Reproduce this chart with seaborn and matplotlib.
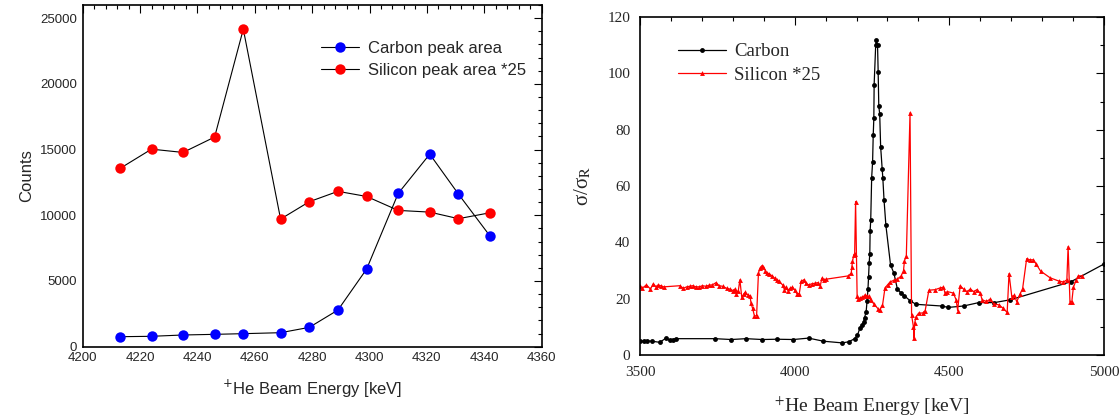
import numpy as np
import pandas as pd
import matplotlib
matplotlib.use("Agg")
import matplotlib.pyplot as plt
from matplotlib.ticker import MultipleLocator
import seaborn as sns

# ---------------- data: left panel ----------------
energy_left = [4213, 4224, 4235, 4246, 4256, 4269, 4279, 4289, 4299, 4310, 4321, 4331, 4342]
carbon_area = [760, 790, 890, 940, 990, 1065, 1470, 2790, 5910, 11660, 14650, 11610, 8420]
silicon_area25 = [13560, 15030, 14780, 15950, 24160, 9710, 11030, 11820, 11430, 10370, 10240, 9740, 10190]

# ---------------- data: right panel ----------------
carbon_E = [3500, 3512, 3524, 3539, 3564, 3584, 3596, 3607, 3615, 3742, 3795, 3843, 3895, 3942,
            3996, 4045, 4093, 4154, 4175, 4194, 4203, 4211, 4217, 4223, 4226, 4231, 4234, 4237,
            4239, 4241, 4243, 4244, 4246, 4249, 4252, 4254, 4256, 4257, 4262, 4264, 4268, 4270,
            4272, 4275, 4278, 4283, 4285, 4289, 4295, 4310, 4321, 4332, 4344, 4355, 4373, 4392,
            4475, 4497, 4546, 4595, 4645, 4697, 4893, 5000]
carbon_R = [4.9, 4.9, 5.0, 4.9, 4.5, 6.0, 5.3, 5.5, 5.8, 5.8, 5.5, 5.8, 5.5, 5.6,
            5.5, 6.0, 4.9, 4.3, 4.7, 5.8, 7.0, 9.6, 10.5, 11.8, 13.3, 15.2, 19.0, 23.3,
            27.8, 32.8, 36.0, 44.0, 48.0, 63.0, 68.5, 78.0, 84.0, 96.0, 110.0, 112.0, 110.0, 100.5,
            88.5, 85.5, 74.0, 66.0, 63.0, 55.0, 46.0, 32.0, 29.0, 23.5, 22.0, 21.0, 19.3, 18.0,
            17.4, 16.9, 17.4, 18.6, 18.6, 19.6, 26.0, 32.3]

silicon_E = [3500, 3507, 3521, 3534, 3543, 3552, 3559, 3567, 3577, 3629, 3640, 3651, 3661, 3670,
             3681, 3691, 3702, 3713, 3724, 3734, 3746, 3756, 3767, 3780, 3791, 3800, 3807, 3810,
             3818, 3823, 3829, 3836, 3840, 3848, 3856, 3859, 3864, 3870, 3877, 3883, 3888, 3894,
             3899, 3905, 3910, 3918, 3927, 3935, 3943, 3950, 3961, 3967, 3972, 3978, 3986, 3993,
             4000, 4007, 4015, 4021, 4029, 4036, 4045, 4056, 4067, 4075, 4083, 4088, 4096, 4101,
             4174, 4183, 4185, 4187, 4191, 4194, 4197, 4202, 4206, 4211, 4217, 4223, 4228, 4234,
             4240, 4246, 4257, 4269, 4275, 4284, 4292, 4301, 4309, 4321, 4332, 4344, 4352, 4355,
             4361, 4373, 4378, 4384, 4386, 4388, 4392, 4401, 4414, 4422, 4434, 4454, 4470, 4481,
             4486, 4494, 4513, 4522, 4527, 4535, 4546, 4557, 4568, 4579, 4589, 4600, 4606, 4620,
             4633, 4643, 4660, 4674, 4687, 4693, 4702, 4710, 4718, 4728, 4737, 4750, 4760, 4772,
             4780, 4795, 4826, 4853, 4869, 4880, 4884, 4890, 4896, 4901, 4910, 4917, 4928]
silicon_R = [24.6, 23.7, 24.9, 23.4, 25.3, 24.2, 24.9, 24.6, 24.2, 24.6, 23.7, 24.2, 24.4, 24.6,
             24.2, 24.2, 24.6, 24.4, 24.8, 24.9, 25.7, 24.6, 24.4, 23.7, 23.4, 22.9, 23.4, 21.8,
             22.9, 26.7, 20.5, 21.8, 22.2, 21.4, 20.8, 18.4, 16.6, 13.9, 13.9, 29.1, 30.8, 31.7,
             31.4, 30.0, 29.1, 28.8, 28.1, 27.3, 26.7, 26.1, 24.9, 23.2, 24.1, 22.9, 23.7, 24.1,
             23.2, 21.8, 21.8, 26.1, 26.7, 25.5, 24.9, 25.3, 25.5, 25.7, 24.6, 27.3, 26.7, 26.9,
             28.1, 29.1, 31.4, 33.2, 35.6, 36.0, 54.5, 21.0, 19.8, 20.2, 20.5, 20.8, 21.2, 21.0,
             20.8, 19.5, 18.0, 16.5, 16.0, 17.6, 23.8, 25.0, 26.0, 26.5, 27.0, 28.0, 30.0, 33.5,
             35.0, 86.0, 14.2, 10.0, 5.9, 11.3, 13.5, 14.9, 14.9, 15.8, 23.0, 23.2, 23.8, 24.1,
             22.0, 22.5, 22.0, 19.6, 15.8, 24.6, 23.4, 22.5, 23.4, 22.5, 23.2, 22.0, 19.6, 19.0,
             19.9, 18.2, 17.8, 16.6, 15.1, 28.9, 20.7, 21.2, 18.9, 21.5, 23.6, 34.2, 33.8, 33.8,
             32.4, 29.8, 27.4, 26.3, 25.9, 26.7, 38.5, 18.9, 18.9, 24.0, 26.6, 28.1, 28.1]

left_labels = ["Carbon peak area", "Silicon peak area *25"]
right_labels = ["Carbon", "Silicon *25"]

# ---------------- figure ----------------
sns.set_style("white")
plt.rcParams["font.family"] = ["Liberation Sans", "DejaVu Sans"]

fig = plt.figure(figsize=(11.2, 4.18), dpi=100)
axL = fig.add_axes([0.0738, 0.1706, 0.4098, 0.8175])
axR = fig.add_axes([0.5714, 0.1507, 0.4143, 0.8086])

dfL = pd.DataFrame({"E": energy_left, "C": carbon_area, "S": silicon_area25})
sns.lineplot(data=dfL, x="E", y="C", ax=axL, color="black", lw=0.8, marker="o", ms=7.5,
             mfc="#0000ff", mec="#0000ff", mew=0, estimator=None, sort=False, label=left_labels[0])
sns.lineplot(data=dfL, x="E", y="S", ax=axL, color="black", lw=0.8, marker="o", ms=7.5,
             mfc="#ff0000", mec="#ff0000", mew=0, estimator=None, sort=False, label=left_labels[1])

axL.set_xlim(4200, 4360)
axL.set_ylim(0, 26000)
axL.xaxis.set_major_locator(MultipleLocator(20))
axL.xaxis.set_minor_locator(MultipleLocator(4))
axL.yaxis.set_major_locator(MultipleLocator(5000))
axL.yaxis.set_minor_locator(MultipleLocator(1000))
axL.set_xlabel("$^{+}$He Beam Energy [keV]", fontsize=12, labelpad=10)
axL.set_ylabel("Counts", fontsize=12, labelpad=4)
axL.tick_params(which="both", direction="in", top=True, right=True, labelsize=9.5,
                color="black", width=0.8)
axL.tick_params(which="major", length=6, pad=4)
axL.tick_params(which="minor", length=3)
for s in axL.spines.values():
    s.set_color("black"); s.set_linewidth(1.2)
legL = axL.legend(loc="upper left", bbox_to_anchor=(0.505, 0.915), frameon=False, fontsize=12,
                  handlelength=2.3, handletextpad=0.5, labelspacing=0.45, borderaxespad=0)

dfC = pd.DataFrame({"E": carbon_E, "R": carbon_R})
dfS = pd.DataFrame({"E": silicon_E, "R": silicon_R})
sns.lineplot(data=dfC, x="E", y="R", ax=axR, color="black", lw=0.9, marker="o", ms=3.5,
             mfc="black", mec="black", mew=0, estimator=None, sort=False, label=right_labels[0])
sns.lineplot(data=dfS, x="E", y="R", ax=axR, color="#ff0000", lw=0.9, marker="^", ms=3.5,
             mfc="#ff0000", mec="#ff0000", mew=0, estimator=None, sort=False, label=right_labels[1])

serif = ["Liberation Serif", "DejaVu Serif"]
axR.set_xlim(3500, 5000)
axR.set_ylim(0, 120)
axR.xaxis.set_major_locator(MultipleLocator(500))
axR.xaxis.set_minor_locator(MultipleLocator(100))
axR.yaxis.set_major_locator(MultipleLocator(20))
axR.yaxis.set_minor_locator(MultipleLocator(10))
axR.set_xlabel("$^{+}$He Beam Energy [keV]", fontsize=14, family=serif,
               math_fontfamily="stix", labelpad=11)
axR.set_ylabel("σ/σ$_{\\mathrm{R}}$", fontsize=15, family=serif, math_fontfamily="stix",
               labelpad=10)
axR.tick_params(which="both", direction="in", top=True, right=True, labelsize=11,
                color="black", width=0.8)
axR.tick_params(axis="x", which="major", length=6, pad=8)
axR.tick_params(axis="y", which="major", length=6, pad=7)
axR.tick_params(which="minor", length=3)
for lab in axR.get_xticklabels() + axR.get_yticklabels():
    lab.set_family(serif)
for s in axR.spines.values():
    s.set_color("black"); s.set_linewidth(1.2)
legR = axR.legend(loc="upper left", bbox_to_anchor=(0.065, 0.945), frameon=False,
                  prop={"family": serif, "size": 13.5}, handlelength=2.6, handletextpad=0.4,
                  labelspacing=0.35, borderaxespad=0)

fig.savefig("out.png", dpi=100, facecolor="white")
